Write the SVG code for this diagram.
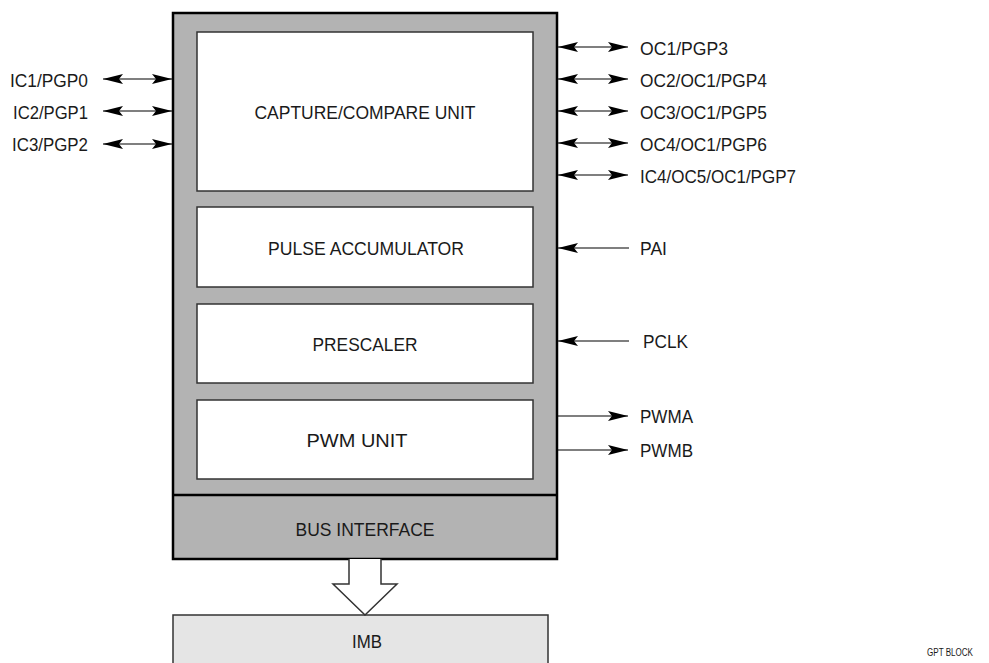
<svg xmlns="http://www.w3.org/2000/svg" width="989" height="663" viewBox="0 0 989 663">
<style>
text{font-family:"Liberation Sans",Arial,sans-serif;font-size:19px;fill:#1a1a1a}
.c{text-anchor:middle}
.inner{fill:#fff;stroke:#333;stroke-width:1.5}
.conn line{stroke:#000;stroke-width:1.2}
</style>
<defs>
<marker id="ah" viewBox="0 0 20 10" refX="20" refY="5" markerWidth="20" markerHeight="10" markerUnits="userSpaceOnUse" orient="auto-start-reverse">
<path d="M0,0 L20,5 L0,10 L4,5 Z" fill="#000"/>
</marker>
</defs>
<rect width="989" height="663" fill="#fff"/>
<g id="gpt">
<rect x="173" y="13" width="384" height="546" fill="#b3b3b3" stroke="#000" stroke-width="2.5"/>
<line x1="173" y1="495" x2="557" y2="495" stroke="#000" stroke-width="2.5"/>
</g>
<g id="capture"><rect class="inner" x="197" y="32" width="336" height="159"/><text class="c" x="365" y="119" textLength="221" lengthAdjust="spacingAndGlyphs">CAPTURE/COMPARE UNIT</text></g>
<g id="pulse"><rect class="inner" x="197" y="207" width="336" height="80"/><text class="c" x="366" y="255" textLength="196" lengthAdjust="spacingAndGlyphs">PULSE ACCUMULATOR</text></g>
<g id="prescaler"><rect class="inner" x="197" y="304" width="336" height="79"/><text class="c" x="365" y="351" textLength="105" lengthAdjust="spacingAndGlyphs">PRESCALER</text></g>
<g id="pwm"><rect class="inner" x="197" y="400" width="336" height="79"/><text class="c" x="357" y="447" textLength="101" lengthAdjust="spacingAndGlyphs">PWM UNIT</text></g>
<g id="bus"><text class="c" x="365" y="536" textLength="139" lengthAdjust="spacingAndGlyphs">BUS INTERFACE</text></g>
<g id="imb"><rect x="173" y="615" width="375" height="60" fill="#e5e5e5" stroke="#333" stroke-width="1.5"/><text class="c" x="367" y="648" textLength="30" lengthAdjust="spacingAndGlyphs">IMB</text></g>
<g id="labels">
<text x="88" y="87" text-anchor="end" textLength="78" lengthAdjust="spacingAndGlyphs">IC1/PGP0</text>
<text x="88" y="119" text-anchor="end" textLength="75" lengthAdjust="spacingAndGlyphs">IC2/PGP1</text>
<text x="88" y="151" text-anchor="end" textLength="76" lengthAdjust="spacingAndGlyphs">IC3/PGP2</text>
<text x="640" y="55" textLength="88" lengthAdjust="spacingAndGlyphs">OC1/PGP3</text>
<text x="640" y="87" textLength="127" lengthAdjust="spacingAndGlyphs">OC2/OC1/PGP4</text>
<text x="640" y="119" textLength="127" lengthAdjust="spacingAndGlyphs">OC3/OC1/PGP5</text>
<text x="640" y="151" textLength="127" lengthAdjust="spacingAndGlyphs">OC4/OC1/PGP6</text>
<text x="640" y="183" textLength="156" lengthAdjust="spacingAndGlyphs">IC4/OC5/OC1/PGP7</text>
<text x="640" y="255" textLength="27" lengthAdjust="spacingAndGlyphs">PAI</text>
<text x="643" y="348" textLength="45" lengthAdjust="spacingAndGlyphs">PCLK</text>
<text x="640" y="423" textLength="53" lengthAdjust="spacingAndGlyphs">PWMA</text>
<text x="640" y="457" textLength="53" lengthAdjust="spacingAndGlyphs">PWMB</text>
<text x="927" y="656" style="font-size:10px" textLength="46" lengthAdjust="spacingAndGlyphs">GPT BLOCK</text>
</g>
<g id="connectors" class="conn">
<line x1="103" y1="79" x2="172" y2="79" marker-start="url(#ah)" marker-end="url(#ah)"/>
<line x1="103" y1="111" x2="172" y2="111" marker-start="url(#ah)" marker-end="url(#ah)"/>
<line x1="103" y1="144" x2="172" y2="144" marker-start="url(#ah)" marker-end="url(#ah)"/>
<line x1="558" y1="47" x2="628" y2="47" marker-start="url(#ah)" marker-end="url(#ah)"/>
<line x1="558" y1="79" x2="628" y2="79" marker-start="url(#ah)" marker-end="url(#ah)"/>
<line x1="558" y1="111" x2="628" y2="111" marker-start="url(#ah)" marker-end="url(#ah)"/>
<line x1="558" y1="143" x2="628" y2="143" marker-start="url(#ah)" marker-end="url(#ah)"/>
<line x1="558" y1="175" x2="628" y2="175" marker-start="url(#ah)" marker-end="url(#ah)"/>
<line x1="629" y1="248" x2="558" y2="248" marker-end="url(#ah)"/>
<line x1="629" y1="341" x2="558" y2="341" marker-end="url(#ah)"/>
<line x1="558" y1="416" x2="628" y2="416" marker-end="url(#ah)"/>
<line x1="558" y1="450" x2="628" y2="450" marker-end="url(#ah)"/>
<path d="M349,559 L349,584 L333,584 L365,615 L397,584 L381,584 L381,559" fill="#fff" stroke="#333" stroke-width="1.5"/>
</g>
</svg>
